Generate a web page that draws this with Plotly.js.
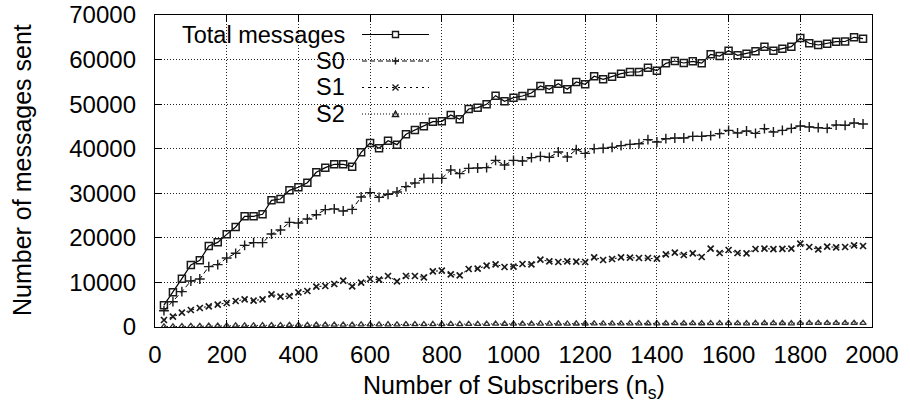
<!DOCTYPE html>
<html>
<head>
<meta charset="utf-8">
<script src="https://cdn.plot.ly/plotly-3.0.1.min.js"></script>
<style>html,body{margin:0;padding:0;background:#fff;}#chart{width:910px;height:406px;}</style>
</head>
<body>
<div id="chart"></div>
<script>
// Number of subscribers (x values)
const subscribers = [25,50,75,100,125,150,175,200,225,250,275,300,325,350,375,400,425,450,475,500,
  525,550,575,600,625,650,675,700,725,750,775,800,825,850,875,900,925,950,975,1000,
  1025,1050,1075,1100,1125,1150,1175,1200,1225,1250,1275,1300,1325,1350,1375,1400,1425,1450,1475,1500,
  1525,1550,1575,1600,1625,1650,1675,1700,1725,1750,1775,1800,1825,1850,1875,1900,1925,1950,1975];

const totalMessages = [4900,7780,10840,13910,14960,18170,18990,20790,22440,24830,24830,25280,28420,28720,30660,31340,32380,34700,35750,36500,
  36500,35970,39190,41280,40090,41800,40910,43230,44200,45020,46070,46140,47560,46590,48910,49210,49960,51900,50630,51450,
  51830,52500,54070,53330,54590,53330,54970,54450,56250,55570,56160,56830,57210,57210,58180,57510,59160,59680,59230,59610,
  59200,61180,60800,61990,60950,61320,61850,62890,61990,62440,62890,64840,63650,63270,63570,64010,64050,65000,64690];

const s0 = [3660,5680,7930,10320,10770,13540,13990,15480,16530,18320,18920,18920,20870,21760,23480,23330,24230,25200,26330,26500,
  26030,26400,29170,30140,29090,29770,30290,31490,32310,33350,33350,33350,35220,34400,35600,35670,35750,37390,36350,37390,
  37240,37990,38290,38070,39260,38140,39790,38960,40010,40090,40310,40690,40980,41130,42030,41510,42250,42400,42400,42770,
  42770,42930,43380,44120,43530,43970,43450,44500,43750,44120,44570,45100,44870,44720,44570,45320,45250,45770,45550];

const s1 = [1570,2320,3220,3810,4260,4640,5010,5380,5830,6210,5910,6210,7330,6800,6960,7780,8080,9050,9200,9650,
  10400,9130,9950,10770,10620,11440,10250,11440,11440,11140,12490,12640,11810,11590,13010,13090,13760,14060,13460,13540,
  14130,14060,15110,14730,14580,14730,14660,14580,15630,15030,15260,15630,15560,15480,15480,15330,16300,16680,16150,16530,
  15710,17580,16600,17280,16600,16500,17500,17600,17450,17550,17600,18700,17950,17430,18020,17880,17950,18320,18170];

const s2 = [70,110,150,190,200,250,260,290,310,340,340,350,390,400,420,430,450,480,490,500,
  500,490,540,570,550,580,560,600,610,620,640,640,660,640,680,680,690,720,700,710,
  720,730,750,740,760,740,760,760,780,770,780,790,800,800,810,800,820,830,820,830,
  820,850,840,860,840,800,860,870,860,870,800,900,880,880,880,890,890,900,900];

const seriesNames = ["Total messages", "S0", "S1", "S2"];
const xTicks = [0,200,400,600,800,1000,1200,1400,1600,1800,2000];
const yTicks = [0,10000,20000,30000,40000,50000,60000,70000];

const FONT = '"Liberation Sans", Arial, Helvetica, sans-serif';
const MK = '#1a1a1a';

const traces = [
  {x: subscribers, y: totalMessages, name: seriesNames[0], mode: 'lines+markers',
   line: {color: '#000', width: 1.2},
   marker: {symbol: 'square-open', size: 7, color: MK, line: {width: 1.5, color: MK}}},
  {x: subscribers, y: s0, name: seriesNames[1], mode: 'lines+markers',
   line: {color: '#000', width: 1, dash: '5px,3px'},
   marker: {symbol: 'cross-thin-open', size: 7, color: MK, line: {width: 1.4, color: MK}}},
  {x: subscribers, y: s1, name: seriesNames[2], mode: 'lines+markers',
   line: {color: '#000', width: 1, dash: '2px,4px'},
   marker: {symbol: 'x-thin-open', size: 6, color: MK, line: {width: 1.7, color: MK}}},
  {x: subscribers, y: s2, name: seriesNames[3], mode: 'lines+markers',
   line: {color: '#000', width: 1, dash: '1px,2px'},
   marker: {symbol: 'triangle-up-open', size: 5.5, color: '#333', line: {width: 1.3, color: '#333'}}}
];

// custom gnuplot-style key
const L = 155, R = 872, T = 15, B = 327;
const px = v => (v - L) / (R - L);
const py = v => (B - v) / (B - T);
const rowY = [34.5, 61, 87.5, 114];
const textX = px(347), lineX0 = px(362), lineX1 = px(429), mkX = px(395.5);
const dashes = ['solid', '5px,3px', '2px,4px', '1px,2px'];
const mkPaths = [
  'M-3,-3H3V3H-3Z',
  'M-3.5,0H3.5M0,-3.5V3.5',
  'M-3,-3L3,3M-3,3L3,-3',
  'M-3,-2.5L3,-2.5L0,2.8Z'
];

const shapes = [{type: 'rect', xref: 'paper', yref: 'paper', x0: 0.002, x1: px(444), y0: py(127), y1: 0.997,
  fillcolor: '#fff', line: {width: 0}, layer: 'between'}];
const annotations = [];
seriesNames.forEach((n, i) => {
  const yy = py(rowY[i]);
  annotations.push({text: n, xref: 'paper', yref: 'paper', x: textX, y: yy, xanchor: 'right', yanchor: 'middle',
    showarrow: false, font: {family: FONT, size: 23.5, color: '#000'}});
  shapes.push({type: 'line', xref: 'paper', yref: 'paper', x0: lineX0, x1: lineX1, y0: yy, y1: yy,
    line: {color: '#000', width: i === 0 ? 1.2 : 1, dash: dashes[i]}});
  shapes.push({type: 'path', xref: 'paper', yref: 'paper', xsizemode: 'pixel', ysizemode: 'pixel',
    xanchor: mkX, yanchor: yy, path: mkPaths[i], fillcolor: i === 0 ? '#fff' : 'rgba(0,0,0,0)',
    line: {color: MK, width: 1.4}});
});

annotations.push({text: 'Number of messages sent', xref: 'paper', yref: 'paper', x: px(22), y: py(170),
  textangle: -90, xanchor: 'center', yanchor: 'middle', showarrow: false, font: {family: FONT, size: 25, color: '#000'}});
annotations.push({text: 'Number of Subscribers (n<sub>s</sub>)', xref: 'paper', yref: 'paper', x: 0.5, y: py(387),
  xanchor: 'center', yanchor: 'middle', showarrow: false, font: {family: FONT, size: 25, color: '#000'}});

const axisCommon = {
  ticks: 'inside', ticklen: 7, tickwidth: 1, tickcolor: '#000',
  showline: true, linecolor: '#000', linewidth: 1.2, mirror: 'ticks',
  showgrid: true, gridcolor: '#222', gridwidth: 1, griddash: '1px,2px',
  zeroline: false, tickfont: {family: FONT, size: 24, color: '#000'}
};

const layout = {
  width: 910, height: 406,
  margin: {l: L, r: 910 - R, t: T, b: 406 - B, pad: 0},
  paper_bgcolor: '#fff', plot_bgcolor: '#fff',
  showlegend: false,
  font: {family: FONT, color: '#000'},
  xaxis: Object.assign({}, axisCommon, {range: [0, 2000], tickmode: 'array', tickvals: xTicks,
    ticktext: xTicks.map(String), ticklabelstandoff: 6}),
  yaxis: Object.assign({}, axisCommon, {range: [0, 70000], tickmode: 'array', tickvals: yTicks,
    ticktext: yTicks.map(String), ticklabelstandoff: 13}),
  shapes: shapes,
  annotations: annotations
};

Plotly.newPlot('chart', traces, layout, {staticPlot: true, displayModeBar: false});
</script>
</body>
</html>
